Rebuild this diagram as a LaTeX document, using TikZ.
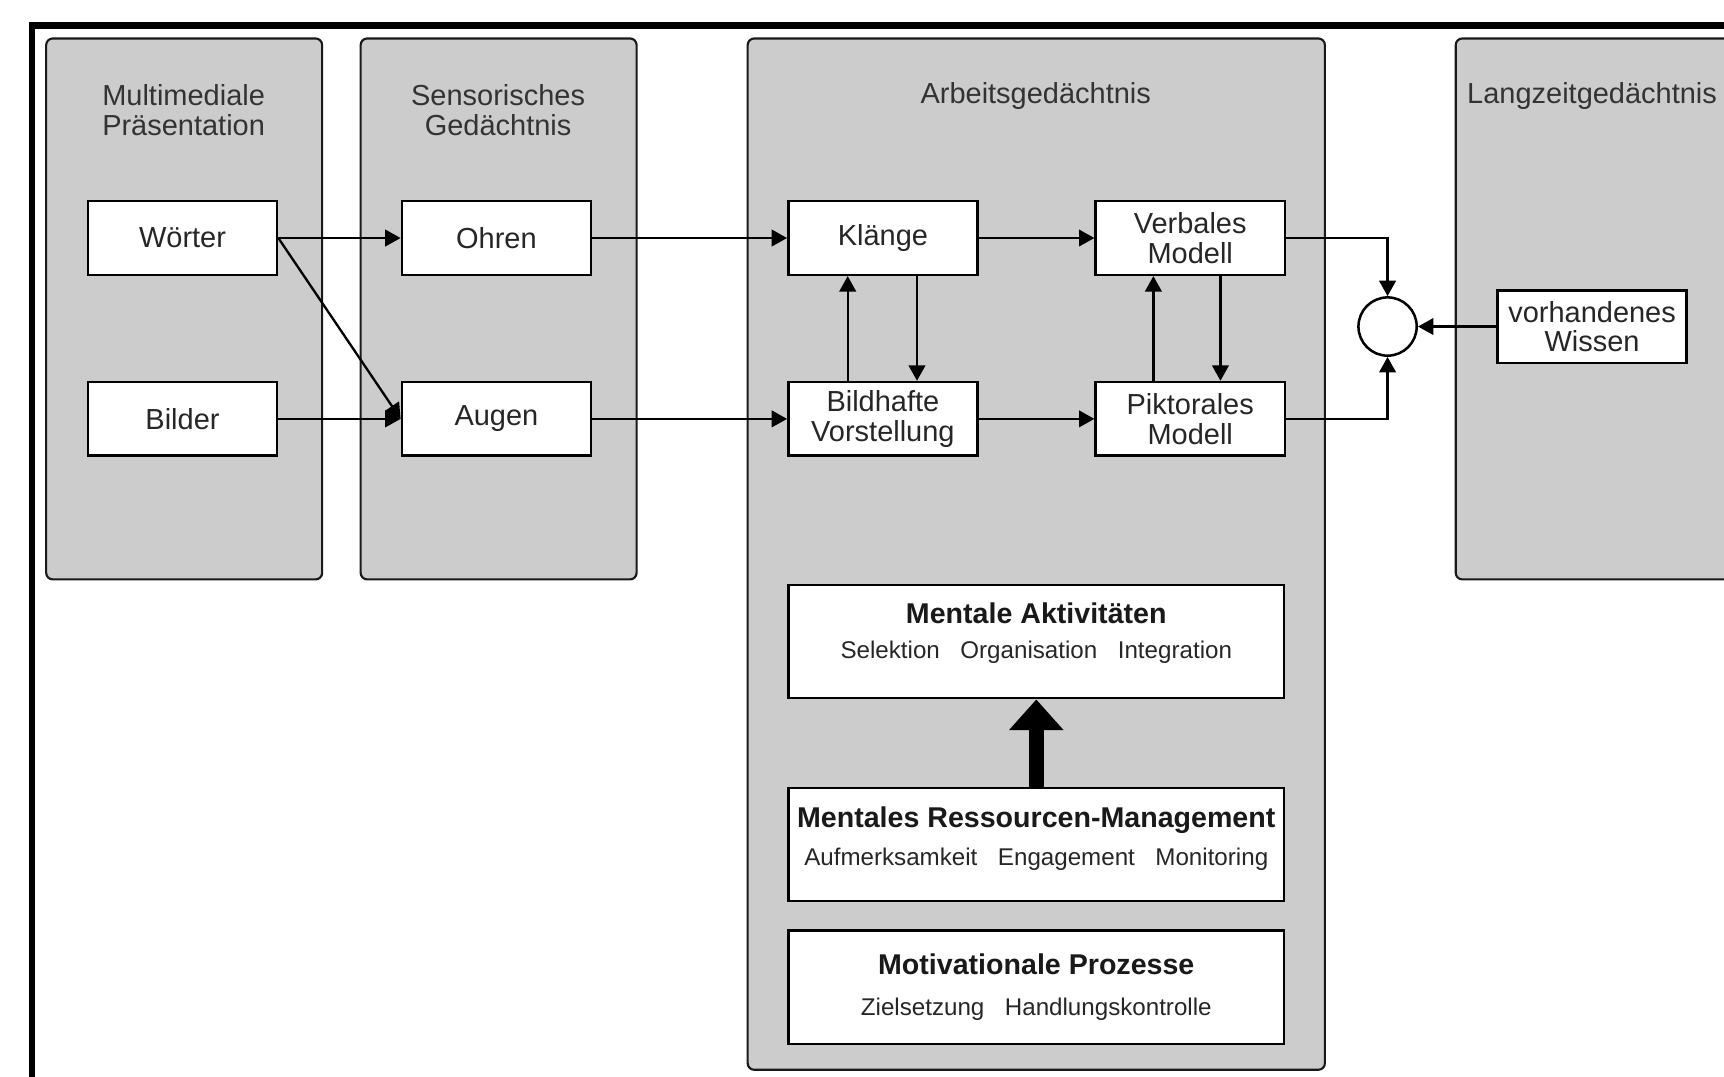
\documentclass[tikz,border=0pt]{standalone}
\usepackage{fontspec}
\setmainfont{Liberation Sans}
\usetikzlibrary{arrows.meta}

\newcommand{\wgap}{\hspace{0.85em}}

\tikzset{
    panel/.style={draw=black!90, line width=1.1pt, fill=black!20, rounded corners=0.12cm},
    paneltitle/.style={align=center, text=black!80, inner sep=0pt, font=\fontsize{15}{15.4}\selectfont},
    box/.style={draw=black, line width=1.3pt, fill=white, minimum width=3.44cm, minimum height=1.34cm,
        inner sep=0pt, align=center, text=black!85, font=\fontsize{15}{15.4}\selectfont},
    bigbox/.style={draw=black, line width=1.3pt, fill=white, minimum width=9.02cm, minimum height=2.06cm, inner sep=0pt},
    bigtitle/.style={inner sep=0pt, text=black!90, font=\bfseries\fontsize{14.8}{16}\selectfont},
    bigsub/.style={inner sep=0pt, text=black!85, font=\fontsize{12.5}{14}\selectfont}
}

\begin{document}
\begin{tikzpicture}
\useasboundingbox (0,0) rectangle (31.36,19.58);
\clip (0,0) rectangle (31.36,19.58);

% frame
\draw [line width=3.4pt] (0.58,-1) rectangle (33,19.12);

% panels
\draw [panel] (0.84,9.04) rectangle (5.86,18.88);
\draw [panel] (6.56,9.04) rectangle (11.58,18.88);
\draw [panel] (13.6,0.12) rectangle (24.1,18.88);
\draw [panel] (26.48,9.04) rectangle (33,18.88);

\node (t1) at (3.34,17.58) [paneltitle] {Multimediale\\Präsentation};
\node (t2) at (9.06,17.58) [paneltitle] {Sensorisches\\Gedächtnis};
\node (t3) at (18.84,17.84) [paneltitle] {Arbeitsgedächtnis};
\node (t4) at (28.96,17.84) [paneltitle] {Langzeitgedächtnis};

% boxes
\node (woerter) at (3.32, 15.25) [box] {Wörter};
\node (bilder) at (3.32, 11.96) [box] {Bilder};
\node (ohren) at (9.03, 15.25) [box] {Ohren};
\node (augen) at (9.03, 11.96) [box] {Augen};
\node (klaenge) at (16.06, 15.25) [box] {Klänge};
\node (bild) at (16.06, 11.96) [box] {Bildhafte\\Vorstellung};
\node (verbal) at (21.65, 15.25) [box] {Verbales\\Modell};
\node (pikt) at (21.65, 11.96) [box] {Piktorales\\Modell};
\node (wissen) at (28.96, 13.64) [box, minimum height=1.32cm] {vorhandenes\\Wissen};
\node (kreis) at (25.24, 13.64) [circle, draw=black, line width=1.3pt, fill=white, minimum size=1.06cm, inner sep=0pt] {};

% lower part
\node (akt) at (18.85, 7.91) [bigbox] {};
\node (akt-t) at ([yshift=-0.54cm]akt.north) [bigtitle] {Mentale Aktivitäten};
\node (akt-s) at ([yshift=-1.24cm]akt.north) [bigsub] {Selektion\wgap Organisation\wgap Integration};

\node (ress) at (18.85, 4.22) [bigbox] {};
\node (ress-t) at ([yshift=-0.62cm]ress.north) [bigtitle] {Mentales Ressourcen-Management};
\node (ress-s) at ([yshift=-1.32cm]ress.north) [bigsub] {Aufmerksamkeit\wgap Engagement\wgap Monitoring};

\node (motiv) at (18.85, 1.62) [bigbox] {};
\node (motiv-t) at ([yshift=-0.64cm]motiv.north) [bigtitle] {Motivationale Prozesse};
\node (motiv-s) at ([yshift=-1.46cm]motiv.north) [bigsub] {Zielsetzung\wgap Handlungskontrolle};

% connectors
\begin{scope}[>={Triangle[length=0.28cm,width=0.3cm]},
              every edge/.style={draw=black, line width=1.2pt}]
    \path [->] (woerter) edge (ohren);
    \path [->] (woerter.east) edge (augen.west);
    \path [->] (bilder) edge (augen);
    \path [->] (ohren) edge (klaenge);
    \path [->] (augen) edge (bild);
    \path [->] (klaenge) edge (verbal);
    \path [->] (bild) edge (pikt);
    \path [->] ([xshift=-0.64cm]bild.north) edge ([xshift=-0.64cm]klaenge.south);
    \path [->] ([xshift=0.62cm]klaenge.south) edge ([xshift=0.62cm]bild.north);
    \path [->] ([xshift=-0.67cm]pikt.north) edge ([xshift=-0.67cm]verbal.south);
    \path [->] ([xshift=0.55cm]verbal.south) edge ([xshift=0.55cm]pikt.north);
    \path [->] (wissen) edge (kreis);
    \draw [->, line width=1.2pt] (verbal.east) -| (kreis.north);
    \draw [->, line width=1.2pt] (pikt.east) -| (kreis.south);
\end{scope}

\draw [line width=0.28cm, -{Triangle[length=0.56cm,width=0.96cm]}] (ress.north) -- (akt.south);
\end{tikzpicture}
\end{document}
